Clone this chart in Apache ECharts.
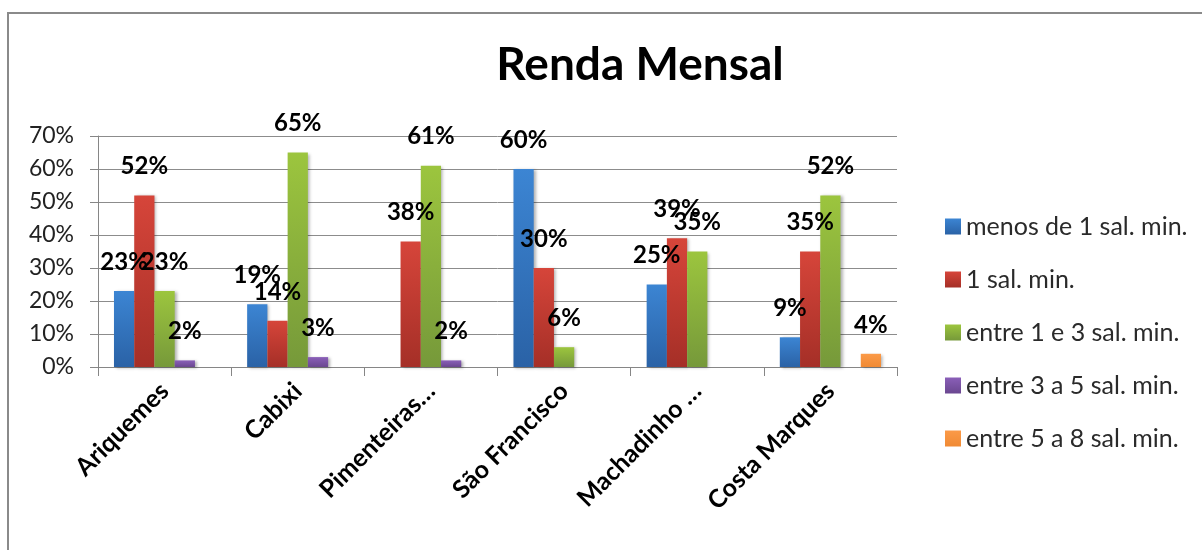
<!DOCTYPE html>
<html>
<head>
<meta charset="utf-8">
<script src="https://cdn.jsdelivr.net/npm/echarts@6/dist/echarts.min.js"></script>
<style>
  html, body { margin: 0; padding: 0; background: #fff; overflow: hidden; }
  #frame {
    position: absolute; left: 7px; top: 12px; width: 1300px; height: 700px;
    border: 2px solid #8a8a8a; box-sizing: border-box;
  }
  #chart { position: absolute; left: 0; top: 0; width: 1202px; height: 550px; }
</style>
</head>
<body>
<div id="frame"></div>
<div id="chart"></div>
<script>
const categories = ['Ariquemes', 'Cabixi', 'Pimenteiras…', 'São Francisco', 'Machadinho …', 'Costa Marques'];
const seriesNames = ['menos de 1 sal. min.', '1 sal. min.', 'entre 1 e 3 sal. min.', 'entre 3 a 5 sal. min.', 'entre 5 a 8 sal. min.'];
// percent values, null = no bar
const menosDe1 = [23, 19, null, 60, 25, 9];
const um = [52, 14, 38, 30, 39, 35];
const entre1e3 = [23, 65, 61, 6, 35, 52];
const entre3a5 = [2, 3, 2, null, null, null];
const entre5a8 = [null, null, null, null, null, 4];
const yTicks = [0, 10, 20, 30, 40, 50, 60, 70];

const colors = [
  ['#3c85d3', '#2a62a6'],
  ['#d6453a', '#a52f27'],
  ['#9cc53e', '#76993a'],
  ['#8a5fb8', '#6a4790'],
  ['#fb9a48', '#f08a34']
];
const font = 'Lato, "Open Sans", sans-serif';

const chart = echarts.init(document.getElementById('chart'));

const makeSeries = (name, data, i) => ({
  name,
  type: 'bar',
  data,
  barGap: '0%',
  barCategoryGap: '24%',
  itemStyle: {
    color: new echarts.graphic.LinearGradient(0, 0, 0, 1, [
      { offset: 0, color: colors[i][0] },
      { offset: 1, color: colors[i][1] }
    ]),
    shadowColor: 'rgba(0,0,0,0.3)',
    shadowBlur: 3,
    shadowOffsetX: 2,
    shadowOffsetY: 1
  },
  label: {
    show: true,
    position: 'top',
    distance: 17,
    formatter: '{c}%',
    color: '#000',
    fontFamily: font,
    fontWeight: 'bold',
    fontSize: 24
  }
});

chart.setOption({
  animation: false,
  color: colors.map(c => c[0]),
  title: {
    text: 'Renda Mensal',
    left: 640,
    top: 42,
    padding: 0,
    textAlign: 'center',
    textStyle: { fontFamily: font, fontWeight: 'bold', fontSize: 46, color: '#000' }
  },
  legend: {
    orient: 'vertical',
    left: 940,
    top: 209,
    itemWidth: 16,
    itemHeight: 16,
    itemGap: 28,
    icon: 'rect',
    data: seriesNames,
    textStyle: { fontFamily: font, fontSize: 25, color: '#2a2a2a' }
  },
  grid: { left: 98, right: 305, top: 136, bottom: 183 },
  xAxis: {
    type: 'category',
    data: categories,
    axisLine: { lineStyle: { color: '#868686', width: 1 } },
    axisTick: { show: true, length: 9, lineStyle: { color: '#868686' } },
    axisLabel: {
      rotate: 45,
      interval: 0,
      margin: 20,
      fontFamily: font,
      fontWeight: 'bold',
      fontSize: 25,
      color: '#000'
    }
  },
  yAxis: {
    type: 'value',
    min: yTicks[0],
    max: yTicks[yTicks.length - 1],
    interval: 10,
    axisLine: { show: true, lineStyle: { color: '#868686' } },
    axisTick: { show: true, length: 8, lineStyle: { color: '#868686' } },
    splitLine: { lineStyle: { color: '#8c8c8c', width: 1 } },
    axisLabel: {
      formatter: '{value}%',
      margin: 24,
      fontFamily: font,
      fontSize: 23,
      color: '#222'
    }
  },
  series: [
    makeSeries(seriesNames[0], menosDe1, 0),
    makeSeries(seriesNames[1], um, 1),
    makeSeries(seriesNames[2], entre1e3, 2),
    makeSeries(seriesNames[3], entre3a5, 3),
    makeSeries(seriesNames[4], entre5a8, 4)
  ]
});
</script>
</body>
</html>
